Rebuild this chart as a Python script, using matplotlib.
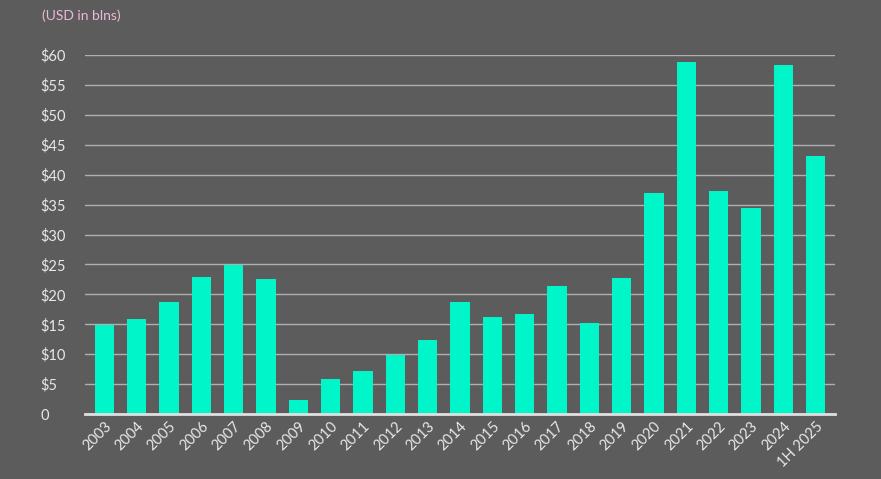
import matplotlib
matplotlib.use("Agg")
import matplotlib.pyplot as plt

years = ["2003","2004","2005","2006","2007","2008","2009","2010","2011","2012","2013","2014",
         "2015","2016","2017","2018","2019","2020","2021","2022","2023","2024","1H 2025"]
values = [14.9,15.9,18.7,22.9,24.9,22.6,2.3,5.9,7.2,9.9,12.4,18.7,16.2,16.7,21.4,15.2,22.7,
          37.0,58.9,37.3,34.4,58.4,43.1]
yticks = [0,5,10,15,20,25,30,35,40,45,50,55,60]
ylabels = ["0"] + [f"${v}" for v in yticks[1:]]

plt.rcParams['font.family'] = ['Lato', 'DejaVu Sans']
bg = "#5c5c5c"
fig = plt.figure(figsize=(8.81, 4.79), dpi=100, facecolor=bg)
ax = fig.add_axes([85/881, 1-414/479, 750/881, 359/479], facecolor=bg)
x = range(len(years))
ax.bar(x, values, width=0.6, color="#00f5c8", zorder=3)
ax.set_xlim(-0.6, len(years) - 0.4)
ax.set_ylim(0, 60)
ax.set_yticks(yticks)
ax.set_yticklabels(ylabels, color="#e8e8e8", fontsize=10.5, ha="left")
ax.tick_params(axis="y", length=0, pad=32)
ax.set_xticks(list(x))
ax.set_xticklabels(years, rotation=45, ha="right", rotation_mode="anchor", color="#e8e8e8", fontsize=10.5)
ax.tick_params(axis="x", length=0, pad=4)
ax.grid(axis="y", color="#b0b0b0", linewidth=1, zorder=0)
for s in ["top", "right", "left"]:
    ax.spines[s].set_visible(False)
ax.spines["bottom"].set_color("#e0e0e0")
ax.spines["bottom"].set_linewidth(2)
ax.spines["bottom"].set_zorder(4)
fig.text(42/881, 1-16/479, "(USD in blns)", color="#f0b8d8", fontsize=10, va="center")
fig.savefig("out.png", facecolor=bg)
